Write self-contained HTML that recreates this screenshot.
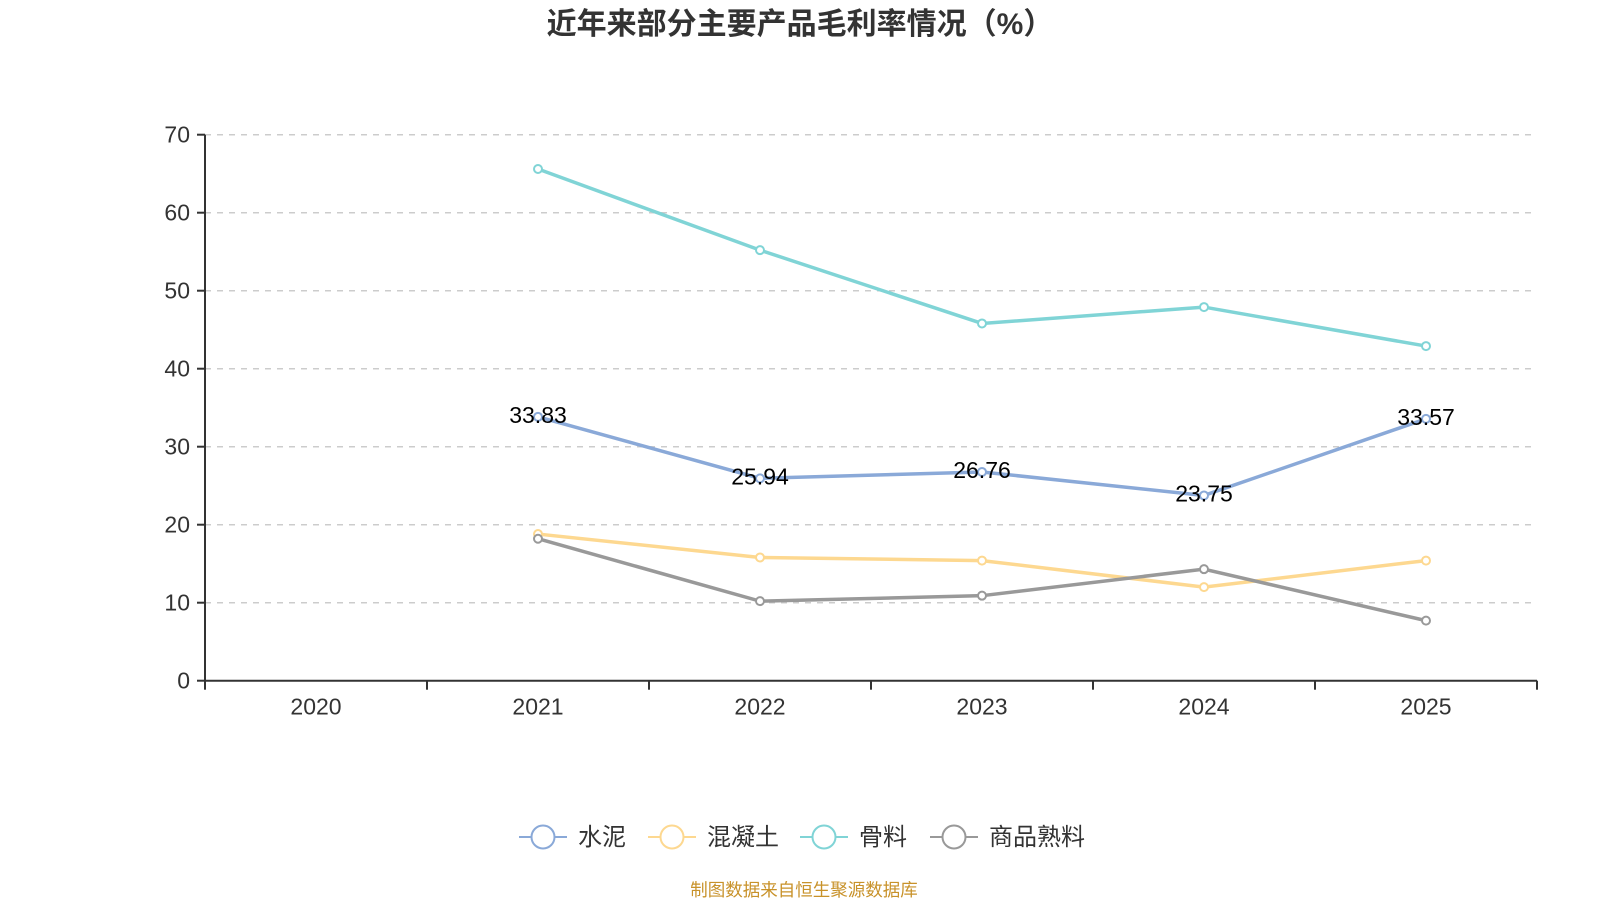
<!DOCTYPE html>
<html><head><meta charset="utf-8">
<style>
html,body{margin:0;padding:0;background:#fff;width:1600px;height:900px;overflow:hidden}
svg{display:block;font-family:"Liberation Sans","Noto Sans CJK SC",sans-serif}
</style></head>
<body>
<svg id="chart" width="1600" height="900" viewBox="0 0 1600 900" xmlns="http://www.w3.org/2000/svg">
<text x="800" y="34" text-anchor="middle" font-size="30" font-weight="bold" fill="#333">近年来部分主要产品毛利率情况（%）</text>
<g id="grid"></g><g id="axes"></g><g id="series"></g><g id="legend"></g>
<text x="804" y="896" text-anchor="middle" font-size="17.5" fill="#c8922a">制图数据来自恒生聚源数据库</text>
</svg>
<script>
const categories = ["2020","2021","2022","2023","2024","2025"];
const yTicks = [0,10,20,30,40,50,60,70];
const seriesNames = ["水泥","混凝土","骨料","商品熟料"];
const seriesColors = ["#8aa9d8","#fdd890","#80d4d6","#999999"];
const cementValues = [null,33.83,25.94,26.76,23.75,33.57];
const concreteValues = [null,18.8,15.8,15.4,12.0,15.4];
const aggregateValues = [null,65.6,55.2,45.8,47.9,42.9];
const clinkerValues = [null,18.2,10.2,10.9,14.3,7.7];
const labeledSeries = [true,false,false,false];

const NS="http://www.w3.org/2000/svg";
const L=205,R=1537,T=134.7,B=680.7,YMAX=70;
const bw=(R-L)/categories.length;
const xPos=i=>L+bw*(i+0.5);
const yPos=v=>B-(v/YMAX)*(B-T);
function mk(tag,attrs,parent){const e=document.createElementNS(NS,tag);for(const k in attrs)e.setAttribute(k,attrs[k]);parent.appendChild(e);return e;}
const grid=document.getElementById('grid'),axes=document.getElementById('axes'),sg=document.getElementById('series'),lg=document.getElementById('legend');

yTicks.forEach(t=>{
  const y=yPos(t);
  if(t>0){const g=mk('line',{x1:L,x2:R,y1:y,y2:y,stroke:'#ccc','stroke-width':1.5,'stroke-dasharray':'6,6'},grid);
  
  }
  mk('line',{x1:L-8,x2:L,y1:y,y2:y,stroke:'#333','stroke-width':2},axes);
  const tx=mk('text',{x:L-15,y:y+8,'text-anchor':'end','font-size':23,fill:'#333'},axes);
  tx.textContent=t;
  
  
});
const ya=mk('line',{x1:L,x2:L,y1:T,y2:B,stroke:'#333','stroke-width':2},axes);


const xa=mk('line',{x1:L,x2:R,y1:B,y2:B,stroke:'#333','stroke-width':2},axes);


for(let i=0;i<=categories.length;i++){mk('line',{x1:L+bw*i,x2:L+bw*i,y1:B,y2:B+9,stroke:'#333','stroke-width':2},axes);}
categories.forEach((c,i)=>{
  const tx=mk('text',{x:xPos(i),y:B+34,'text-anchor':'middle','font-size':23,fill:'#333'},axes);
  tx.textContent=c;
  
  
});

const allSeries=[cementValues,concreteValues,aggregateValues,clinkerValues];
allSeries.forEach((vals,s)=>{
  const g=mk('g',{},sg);
  
  
  let d='';
  vals.forEach((v,i)=>{if(v==null)return;d+=(d?'L':'M')+xPos(i)+','+yPos(v);});
  const p=mk('path',{d:d,fill:'none',stroke:seriesColors[s],'stroke-width':3.5},g);
  
  
  vals.forEach((v,i)=>{if(v==null)return;
    const c=mk('circle',{cx:xPos(i),cy:yPos(v),r:4,fill:'#fff',stroke:seriesColors[s],'stroke-width':2},g);
    
    
    if(labeledSeries[s]){
      const t=mk('text',{x:xPos(i),y:yPos(v)+6,'text-anchor':'middle','font-size':23,fill:'#000'},g);
      t.textContent=v.toFixed(2);
      
      
    }
  });
});

const legX=[519,648,800,930];
seriesNames.forEach((n,s)=>{
  const g=mk('g',{},lg);
  
  
  const x=legX[s],y=837;
  mk('line',{x1:x,x2:x+48,y1:y,y2:y,stroke:seriesColors[s],'stroke-width':2},g);
  mk('circle',{cx:x+24,cy:y,r:11.5,fill:'#fff',stroke:seriesColors[s],'stroke-width':2},g);
  const t=mk('text',{x:x+59,y:y+8,'font-size':24,fill:'#333'},g);
  t.textContent=n;
});
</script>
</body></html>
